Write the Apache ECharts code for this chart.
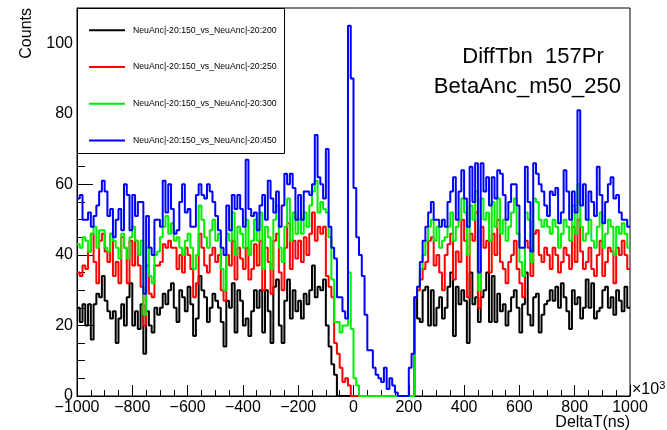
<!DOCTYPE html>
<html><head><meta charset="utf-8">
<script src="https://cdn.jsdelivr.net/npm/echarts@6/dist/echarts.min.js"></script>
<style>html,body{margin:0;padding:0;background:#fff}#c{width:667px;height:430px}</style>
</head><body><div id="c"></div>
<script>
// Histogram binning (200 bins of 10 from -1000 to 1000, in units of 10^3 ns)
const binLow = -1000;
const binWidth = 10;
const seriesNames = [
  'NeuAnc|-20:150_vs_NeuAnc|-20:200',
  'NeuAnc|-20:150_vs_NeuAnc|-20:250',
  'NeuAnc|-20:150_vs_NeuAnc|-20:300',
  'NeuAnc|-20:150_vs_NeuAnc|-20:450'
];
const seriesColors = ['#000000', '#ff0000', '#00ee00', '#0000ff'];
const titleLines = ['DiffTbn  157Pr', 'BetaAnc_m50_250'];

const black = [
25,21,26,20,26,16,26,29,28,34,27,24,22,24,15,22,26,20,28,32,20,24,19,26,12,24,20,18,25,23,25,29,26,30,32,25,21,30,28,24,
31,26,17,22,34,30,28,21,25,29,27,25,21,14,27,25,32,18,30,27,20,22,17,24,30,25,30,18,30,24,15,31,33,20,15,27,33,22,30,24,
27,22,29,26,30,37,28,31,30,33,20,14,9,6,0,0,0,0,0,0,
0,0,0,0,0,0,0,0,0,0,0,0,0,0,0,0,0,0,0,0,0,0,
28,22,21,30,31,20,30,20,25,28,22,25,31,35,17,31,26,30,27,15,35,26,28,21,28,30,35,21,34,21,29,24,26,20,24,28,30,25,
18,26,35,23,20,28,29,18,23,26,27,30,27,31,25,32,28,24,19,30,26,28,22,25,33,25,32,22,24,25,30,31,25,28,23,30,27,24,31,25
];
const red = [
35,34,37,36,41,46,38,32,44,46,41,38,46,34,38,32,45,42,32,44,37,44,37,31,20,37,29,28,37,37,38,43,42,44,42,42,36,40,35,42,
40,36,28,32,46,42,37,35,40,42,38,40,30,27,40,37,44,33,42,39,36,42,33,36,43,37,44,30,42,38,29,44,46,35,30,42,49,36,44,39,
44,38,45,40,46,52,44,48,46,48,34,31,28,15,12,8,4,5,3,0,
0,0,0,0,0,0,0,0,0,0,0,0,0,0,0,0,0,0,0,0,0,0,
28,30,33,36,38,44,45,37,40,35,30,40,43,46,33,41,38,50,44,28,46,44,52,25,48,42,44,35,46,40,50,38,36,32,38,40,44,36,
32,28,44,42,34,46,47,40,38,42,40,36,42,40,35,38,42,40,36,48,38,50,41,36,38,42,36,34,40,44,34,38,42,41,32,42,40,44,40,36
];
const green = [
43,42,45,44,41,46,48,42,47,47,42,41,46,44,42,39,46,42,39,45,48,44,40,44,23,42,34,32,40,41,45,48,51,46,49,44,45,42,40,44,
46,42,36,40,54,50,45,42,47,50,44,46,36,30,46,44,52,40,48,46,42,50,40,44,50,44,52,36,48,45,36,50,54,42,38,48,56,44,52,46,
50,46,52,48,54,58,61,52,55,53,52,45,33,21,21,18,20,20,35,19,5,3,
0,0,0,0,0,0,0,0,0,0,0,0,0,0,0,0,0,0,0,0,
28,31,36,40,44,48,50,44,48,42,44,45,48,52,44,48,50,56,52,40,54,50,58,30,56,50,52,44,55,48,56,46,50,44,48,52,56,46,
38,34,52,50,38,56,55,50,48,50,48,46,50,48,42,46,50,48,44,54,46,60,48,44,46,50,44,42,48,52,42,46,50,48,40,48,46,49,46,42
];
const blue = [
56,57,50,50,52,48,51,54,58,61,58,51,53,45,50,53,47,60,57,47,57,51,55,55,29,51,42,40,50,50,48,61,52,60,53,46,47,55,60,52,
53,48,48,57,60,57,56,60,58,55,51,47,42,40,54,47,57,53,57,53,48,67,53,51,52,47,54,57,50,61,56,52,58,48,54,63,60,63,59,50,
57,50,58,58,57,60,74,62,60,56,70,48,42,39,28,28,24,22,105,90,59,45,40,34,23,13,13,8,6,5,4,8,2,5,3,1,0,0,0,0,8,12,
28,31,38,44,48,52,55,50,50,48,50,48,55,58,62,50,58,64,56,48,65,55,66,35,66,58,62,54,62,56,64,63,57,50,55,60,60,54,
42,42,65,55,41,66,63,60,58,54,51,58,57,59,49,52,64,58,50,58,52,81,54,60,50,58,55,51,65,57,49,55,60,62,56,57,52,50,50,48
];
const allSeries = [black, red, green, blue];

function histPoints(vals) {
  const pts = vals.map((v, i) => [binLow + i * binWidth, v]);
  pts.push([binLow + vals.length * binWidth, vals[vals.length - 1]]);
  return pts;
}

const FONT = '"Liberation Sans", Arial, Helvetica, sans-serif';
const chart = echarts.init(document.getElementById('c'), null, {renderer: 'canvas'});
chart.setOption({
  animation: false,
  backgroundColor: '#fff',
  grid: {left: 77, right: 37, top: 8, bottom: 34, show: true, borderColor: '#000', borderWidth: 1, backgroundColor: 'transparent'},
  xAxis: {
    type: 'value', min: -1000, max: 1000, interval: 200,
    axisLine: {show: true, onZero: false, lineStyle: {color: '#000', width: 1}},
    axisTick: {show: true, inside: true, length: 11, lineStyle: {color: '#000'}},
    minorTick: {show: true, splitNumber: 4, length: 6, lineStyle: {color: '#000'}},
    axisLabel: {color: '#000', fontSize: 16, fontFamily: FONT, margin: 4,
      formatter: v => String(v).replace('-', '\u2212')},
    splitLine: {show: false}
  },
  yAxis: {
    type: 'value', min: 0, max: 110, interval: 20,
    axisLine: {show: true, onZero: false, lineStyle: {color: '#000', width: 1}},
    axisTick: {show: true, inside: true, length: 16, lineStyle: {color: '#000'}},
    minorTick: {show: true, splitNumber: 4, length: 8, lineStyle: {color: '#000'}},
    axisLabel: {color: '#000', fontSize: 16, fontFamily: FONT, margin: 4, showMaxLabel: false},
    splitLine: {show: false}
  },
  legend: {
    show: true, orient: 'vertical', left: 84, top: 18.3, z: 5,
    itemWidth: 36, itemHeight: 2, itemGap: 22.7, icon: 'rect', selectedMode: false,
    data: seriesNames,
    textStyle: {fontSize: 8.7, fontFamily: FONT, color: '#000', lineHeight: 14, padding: [0, 0, 0, 3]}
  },
  graphic: [
    {type: 'rect', z: 3, shape: {x: 77.5, y: 8.5, width: 207, height: 145},
      style: {fill: '#fff', stroke: '#000', lineWidth: 1}},
    {type: 'text', z: 5, x: 27, y: 8, rotation: Math.PI / 2,
      style: {text: 'Counts', font: '16px ' + FONT, fill: '#000', textAlign: 'right', textVerticalAlign: 'middle'}},
    {type: 'text', z: 5, x: 630, y: 423,
      style: {text: 'DeltaT(ns)', font: '16px ' + FONT, fill: '#000', textAlign: 'right', textVerticalAlign: 'middle'}},
    {type: 'text', z: 5, x: 632, y: 390,
      style: {text: '\u00d710{s|3}', font: '16px ' + FONT, fill: '#000', textAlign: 'left', textVerticalAlign: 'middle',
        rich: {s: {fontSize: 11, fontFamily: FONT, verticalAlign: 'top', padding: [0, 0, 8, 0]}}}},
    {type: 'text', z: 5, x: 533, y: 57,
      style: {text: titleLines[0], font: '22px ' + FONT, fill: '#000', textAlign: 'center', textVerticalAlign: 'middle'}},
    {type: 'text', z: 5, x: 621, y: 87,
      style: {text: titleLines[1], font: '22px ' + FONT, fill: '#000', textAlign: 'right', textVerticalAlign: 'middle'}}
  ],
  series: allSeries.map((vals, k) => ({
    type: 'line', name: seriesNames[k], step: 'end', showSymbol: false, symbol: 'none',
    color: seriesColors[k], z: 2,
    lineStyle: {color: seriesColors[k], width: 2},
    data: histPoints(vals)
  }))
});
</script>
</body></html>
